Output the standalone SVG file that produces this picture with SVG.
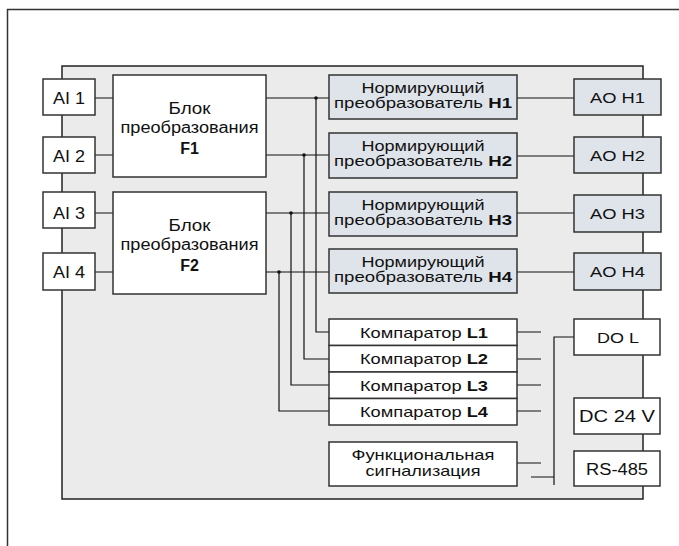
<svg xmlns="http://www.w3.org/2000/svg" width="679" height="546" viewBox="0 0 679 546">
<style>
.frame{fill:none;stroke:#333;stroke-width:1.5}
.panel{fill:#ebebeb;stroke:#222;stroke-width:1.5}
.w{fill:#fff;stroke:#333;stroke-width:1.5}
.b{fill:#dfe4eb;stroke:#333;stroke-width:1.5}
.ln{fill:none;stroke:#111;stroke-width:1.2}
.dot{fill:#111}
text{font-family:"Liberation Sans",Arial,sans-serif;fill:#111;text-anchor:middle}
.t16{font-size:16px}
.t15{font-size:15px}
.t14{font-size:14.5px}
.bd{font-weight:bold}
</style>
<path class="frame" d="M7.5,546 V9.5 H679"/>
<rect id="panel" class="panel" x="62" y="66" width="581" height="433"/>

<g id="connectors">
<path class="ln" d="M95,98 H113 M95,155 H113 M95,213 H113 M95,272 H113"/>
<path class="ln" d="M266,98 H329 M266,155 H329 M266,213 H329 M266,272 H329"/>
<path class="ln" d="M316,98 V332 H329 M304,155 V359 H329 M291,213 V385 H329 M279,272 V411 H329"/>
<path class="ln" d="M517,98 H574 M517,156 H574 M517,213 H574 M517,272 H574"/>
<path class="ln" d="M517,332 H541 M517,359 H541 M517,385 H541 M517,411 H541"/>
<path class="ln" d="M517,463 H541 M531,477 H554 M554,485 V337 H574"/>
<circle class="dot" cx="316" cy="98" r="1.8"/>
<circle class="dot" cx="304" cy="155" r="1.8"/>
<circle class="dot" cx="291" cy="213" r="1.8"/>
<circle class="dot" cx="279" cy="272" r="1.8"/>
</g>

<g id="ai1"><rect class="w" x="43" y="79" width="52" height="36"/><text class="t16" x="69" y="103.5" textLength="32" lengthAdjust="spacingAndGlyphs">AI 1</text></g>
<g id="ai2"><rect class="w" x="43" y="137" width="52" height="36"/><text class="t16" x="69" y="161.5" textLength="32" lengthAdjust="spacingAndGlyphs">AI 2</text></g>
<g id="ai3"><rect class="w" x="43" y="192" width="52" height="36"/><text class="t16" x="69" y="219" textLength="32" lengthAdjust="spacingAndGlyphs">AI 3</text></g>
<g id="ai4"><rect class="w" x="43" y="253" width="52" height="37"/><text class="t16" x="69" y="278" textLength="32" lengthAdjust="spacingAndGlyphs">AI 4</text></g>

<g id="f1"><rect class="w" x="113" y="75" width="153" height="102"/>
<text class="t16" x="189.5" y="114" textLength="42" lengthAdjust="spacingAndGlyphs">Блок</text>
<text class="t16" x="189.5" y="133" textLength="138" lengthAdjust="spacingAndGlyphs">преобразования</text>
<text class="t16 bd" x="189.5" y="153.5">F1</text></g>
<g id="f2"><rect class="w" x="113" y="192" width="153" height="102"/>
<text class="t16" x="189.5" y="231" textLength="42" lengthAdjust="spacingAndGlyphs">Блок</text>
<text class="t16" x="189.5" y="250" textLength="138" lengthAdjust="spacingAndGlyphs">преобразования</text>
<text class="t16 bd" x="189.5" y="270.5">F2</text></g>

<g id="h1"><rect class="b" x="329" y="75" width="188" height="44"/>
<text class="t14" x="423" y="92.5" textLength="123" lengthAdjust="spacingAndGlyphs">Нормирующий</text>
<text class="t14" x="423" y="107.5" textLength="178" lengthAdjust="spacingAndGlyphs">преобразователь <tspan class="bd">H1</tspan></text></g>
<g id="h2"><rect class="b" x="329" y="133" width="188" height="45"/>
<text class="t14" x="423" y="150.5" textLength="123" lengthAdjust="spacingAndGlyphs">Нормирующий</text>
<text class="t14" x="423" y="165.5" textLength="178" lengthAdjust="spacingAndGlyphs">преобразователь <tspan class="bd">H2</tspan></text></g>
<g id="h3"><rect class="b" x="329" y="192" width="188" height="44"/>
<text class="t14" x="423" y="209.5" textLength="123" lengthAdjust="spacingAndGlyphs">Нормирующий</text>
<text class="t14" x="423" y="224.5" textLength="178" lengthAdjust="spacingAndGlyphs">преобразователь <tspan class="bd">H3</tspan></text></g>
<g id="h4"><rect class="b" x="329" y="249" width="188" height="44"/>
<text class="t14" x="423" y="266.5" textLength="123" lengthAdjust="spacingAndGlyphs">Нормирующий</text>
<text class="t14" x="423" y="281.5" textLength="178" lengthAdjust="spacingAndGlyphs">преобразователь <tspan class="bd">H4</tspan></text></g>

<g id="aoh1"><rect class="b" x="574" y="79" width="87" height="36"/><text class="t15" x="617.5" y="102.5" textLength="55" lengthAdjust="spacingAndGlyphs">AO H1</text></g>
<g id="aoh2"><rect class="b" x="574" y="137" width="87" height="36"/><text class="t15" x="617.5" y="160.5" textLength="55" lengthAdjust="spacingAndGlyphs">AO H2</text></g>
<g id="aoh3"><rect class="b" x="574" y="195" width="87" height="37"/><text class="t15" x="617.5" y="219" textLength="55" lengthAdjust="spacingAndGlyphs">AO H3</text></g>
<g id="aoh4"><rect class="b" x="574" y="253" width="87" height="37"/><text class="t15" x="617.5" y="277" textLength="55" lengthAdjust="spacingAndGlyphs">AO H4</text></g>

<g id="l1"><rect class="w" x="329" y="319" width="188" height="26.5"/><text class="t15" x="424" y="337.5" textLength="128" lengthAdjust="spacingAndGlyphs">Компаратор <tspan class="bd">L1</tspan></text></g>
<g id="l2"><rect class="w" x="329" y="345.5" width="188" height="26.5"/><text class="t15" x="424" y="364" textLength="128" lengthAdjust="spacingAndGlyphs">Компаратор <tspan class="bd">L2</tspan></text></g>
<g id="l3"><rect class="w" x="329" y="372" width="188" height="26.5"/><text class="t15" x="424" y="390.5" textLength="128" lengthAdjust="spacingAndGlyphs">Компаратор <tspan class="bd">L3</tspan></text></g>
<g id="l4"><rect class="w" x="329" y="398.5" width="188" height="26.5"/><text class="t15" x="424" y="417" textLength="128" lengthAdjust="spacingAndGlyphs">Компаратор <tspan class="bd">L4</tspan></text></g>

<g id="func"><rect class="w" x="329" y="442" width="188" height="44"/>
<text class="t15" x="423" y="460" textLength="143" lengthAdjust="spacingAndGlyphs">Функциональная</text>
<text class="t15" x="423" y="475.5" textLength="115" lengthAdjust="spacingAndGlyphs">сигнализация</text></g>

<g id="dol"><rect class="w" x="574" y="319" width="86" height="36"/><text class="t15" x="618" y="343" textLength="42" lengthAdjust="spacingAndGlyphs">DO L</text></g>
<g id="dc24"><rect class="w" x="574" y="398" width="86" height="36"/><text class="t16" x="617" y="422" textLength="76" lengthAdjust="spacingAndGlyphs">DC 24 V</text></g>
<g id="rs485"><rect class="w" x="574" y="451" width="86" height="35"/><text class="t16" x="617" y="475" textLength="62" lengthAdjust="spacingAndGlyphs">RS-485</text></g>
</svg>
